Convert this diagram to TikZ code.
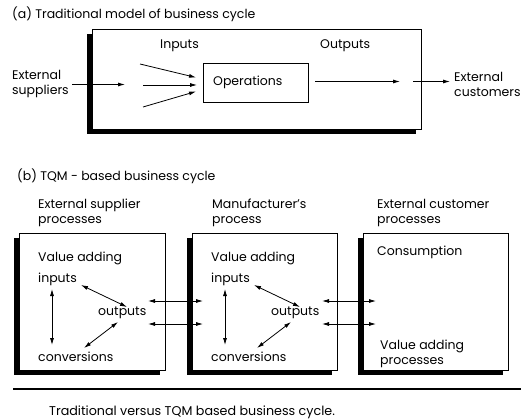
\documentclass[tikz,border=0pt]{standalone}
\usepackage{fontspec}
\setmainfont{Poppins}
\usetikzlibrary{arrows.meta,shadows}
\begin{document}
\begin{tikzpicture}[x=1pt,y=-1pt,
  txt/.style={inner sep=0pt,anchor=west,font=\fontsize{12.5}{15}\selectfont,align=left},
  sbox/.style={draw,line width=0.9pt,fill=white,inner sep=0pt,
     general shadow={fill=black,shadow xshift=-5pt,shadow yshift=-5pt}},
  pbox/.style={draw,line width=0.9pt,fill=white,inner sep=0pt},
  arr/.style={line width=0.8pt,-{Latex[length=7pt,width=4pt]}},
  darr/.style={line width=0.8pt,{Latex[length=7pt,width=4pt]}-{Latex[length=7pt,width=4pt]}}]
\useasboundingbox (0,0) rectangle (521,419);
% ---------- (a)
\node[txt] (ta) at (12,14) {(a) Traditional model of business cycle};
\node[sbox,minimum width=329pt,minimum height=100pt] (boxA) at (256.5,79) {};
\node[pbox,minimum width=105pt,minimum height=39pt] (ops) at (255.5,82.5) {};
\node[txt] (opt) at (213,82) {Operations};
\node[txt] (inp) at (160,46) {Inputs};
\node[txt] (outp) at (320,46) {Outputs};
\node[txt] (sup) at (12,84) {External\\suppliers};
\node[txt] (cus) at (454,84) {External\\customers};
\coordinate (s1) at (72,84.5); \coordinate (s2) at (125,84.5);
\coordinate (i1a) at (140,64); \coordinate (i1b) at (196,77.5);
\coordinate (i2a) at (143,85); \coordinate (i2b) at (197,85);
\coordinate (i3a) at (143,107); \coordinate (i3b) at (196,91.5);
\coordinate (o1) at (315,81.5); \coordinate (o2) at (400,81.5);
\coordinate (c1) at (413,81.5); \coordinate (c2) at (450,81.5);
\draw[arr] (s1) -- (s2);
\draw[arr] (i1a) -- (i1b);
\draw[arr] (i2a) -- (i2b);
\draw[arr] (i3a) -- (i3b);
\draw[arr] (o1) -- (o2);
\draw[arr] (c1) -- (c2);
% ---------- (b)
\node[txt] (tb) at (17,176) {(b) TQM - based business cycle};
\node[txt] (h1) at (38,213) {External supplier\\processes};
\node[txt] (h2) at (212,213) {Manufacturer's\\process};
\node[txt] (h3) at (377,213) {External customer\\processes};
\node[sbox,minimum width=146pt,minimum height=137pt] (b1) at (92,301.5) {};
\node[sbox,minimum width=145pt,minimum height=137pt] (b2) at (264.5,301.5) {};
\node[sbox,minimum width=145pt,minimum height=137pt] (b3) at (435.5,301.5) {};
% box 1 content
\node[txt] (va1) at (38,258) {Value adding};
\node[txt] (in1) at (38,279) {inputs};
\node[txt] (out1) at (98,313) {outputs};
\node[txt] (cv1) at (38,357) {conversions};
\coordinate (v1a) at (52,289); \coordinate (v1b) at (52,345);
\coordinate (d1a) at (81,285); \coordinate (d1b) at (127,307);
\coordinate (e1a) at (118,322); \coordinate (e1b) at (84,348);
\draw[darr] (v1a) -- (v1b);
\draw[darr] (d1a) -- (d1b);
\draw[darr] (e1a) -- (e1b);
% box 2 content
\node[txt] (va2) at (211,258) {Value adding};
\node[txt] (in2) at (211,279) {inputs};
\node[txt] (out2) at (271,313) {outputs};
\node[txt] (cv2) at (211,357) {conversions};
\coordinate (v2a) at (225,289); \coordinate (v2b) at (225,345);
\coordinate (d2a) at (254,285); \coordinate (d2b) at (300,307);
\coordinate (e2a) at (291,322); \coordinate (e2b) at (257,348);
\draw[darr] (v2a) -- (v2b);
\draw[darr] (d2a) -- (d2b);
\draw[darr] (e2a) -- (e2b);
% box 3 content
\node[txt] (cons) at (377,252) {Consumption};
\node[txt] (vap) at (380,354) {Value adding\\processes};
% between boxes
\coordinate (h1a) at (148,301); \coordinate (h1b) at (203,301);
\coordinate (h2a) at (148,324); \coordinate (h2b) at (203,324);
\coordinate (h3a) at (322,301); \coordinate (h3b) at (376,301);
\coordinate (h4a) at (322,324); \coordinate (h4b) at (376,324);
\draw[darr] (h1a) -- (h1b);
\draw[darr] (h2a) -- (h2b);
\draw[darr] (h3a) -- (h3b);
\draw[darr] (h4a) -- (h4b);
% rule and caption
\coordinate (r1) at (13,389); \coordinate (r2) at (521,389);
\draw[line width=1.2pt] (r1) -- (r2);
\node[txt,font=\fontsize{12.7}{15}\selectfont] (cap) at (49,412) {Traditional versus TQM based business cycle.};
\end{tikzpicture}
\end{document}
